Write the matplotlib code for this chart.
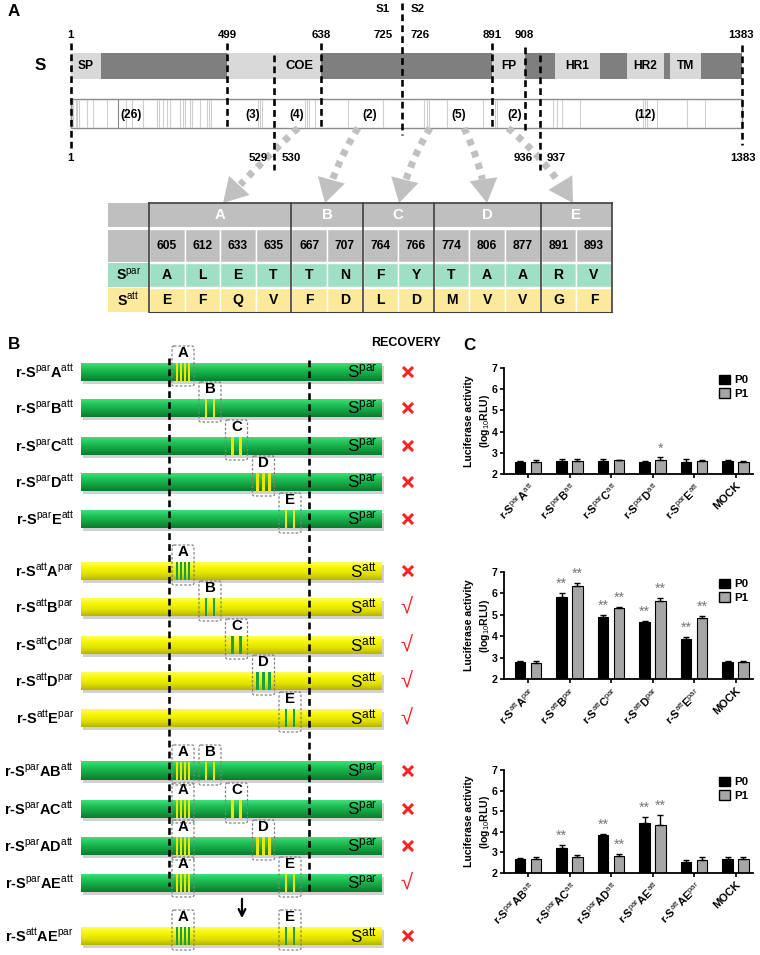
import matplotlib
matplotlib.use('Agg')
import matplotlib.pyplot as plt
import numpy as np
from matplotlib.patches import Rectangle, FancyBboxPatch, Polygon
from matplotlib.colors import LinearSegmentedColormap
from matplotlib.patches import Patch

plt.rcParams['font.family'] = ['Liberation Sans', 'DejaVu Sans']
plt.rcParams['mathtext.fontset'] = 'custom'
plt.rcParams['mathtext.rm'] = 'Liberation Sans'
plt.rcParams['mathtext.it'] = 'Liberation Sans:italic'
plt.rcParams['mathtext.bf'] = 'Liberation Sans:bold'

# ---------------- data ----------------
top_marks = ['1', '499', '638', '725', '726', '891', '908', '1383']
bottom_marks = ['1', '529', '530', '936', '937', '1383']
domain_names = ['SP', '', 'FP', 'HR1', 'HR2', 'TM']
segment_counts = ['(26)', '(3)', '(4)', '(2)', '(5)', '(2)', '(12)']
region_names = ['A', 'B', 'C', 'D', 'E']
region_positions = [['605', '612', '633', '635'], ['667', '707'], ['764', '766'],
                    ['774', '806', '877'], ['891', '893']]
spar_residues = [['A', 'L', 'E', 'T'], ['T', 'N'], ['F', 'Y'], ['T', 'A', 'A'], ['R', 'V']]
satt_residues = [['E', 'F', 'Q', 'V'], ['F', 'D'], ['L', 'D'], ['M', 'V', 'V'], ['G', 'F']]

construct_labels = [
    r'r-S$^{\mathrm{par}}$A$^{\mathrm{att}}$', r'r-S$^{\mathrm{par}}$B$^{\mathrm{att}}$',
    r'r-S$^{\mathrm{par}}$C$^{\mathrm{att}}$', r'r-S$^{\mathrm{par}}$D$^{\mathrm{att}}$',
    r'r-S$^{\mathrm{par}}$E$^{\mathrm{att}}$',
    r'r-S$^{\mathrm{att}}$A$^{\mathrm{par}}$', r'r-S$^{\mathrm{att}}$B$^{\mathrm{par}}$',
    r'r-S$^{\mathrm{att}}$C$^{\mathrm{par}}$', r'r-S$^{\mathrm{att}}$D$^{\mathrm{par}}$',
    r'r-S$^{\mathrm{att}}$E$^{\mathrm{par}}$',
    r'r-S$^{\mathrm{par}}$AB$^{\mathrm{att}}$', r'r-S$^{\mathrm{par}}$AC$^{\mathrm{att}}$',
    r'r-S$^{\mathrm{par}}$AD$^{\mathrm{att}}$', r'r-S$^{\mathrm{par}}$AE$^{\mathrm{att}}$',
    r'r-S$^{\mathrm{att}}$AE$^{\mathrm{par}}$']
backbone = ['par'] * 5 + ['att'] * 5 + ['par'] * 4 + ['att']
swapped = [['A'], ['B'], ['C'], ['D'], ['E'], ['A'], ['B'], ['C'], ['D'], ['E'],
           ['A', 'B'], ['A', 'C'], ['A', 'D'], ['A', 'E'], ['A', 'E']]
recovery = [False] * 6 + [True] * 4 + [False] * 3 + [True, False]

c1_labels = [r'r-S$^{\mathrm{par}}$A$^{\mathrm{att}}$', r'r-S$^{\mathrm{par}}$B$^{\mathrm{att}}$',
             r'r-S$^{\mathrm{par}}$C$^{\mathrm{att}}$', r'r-S$^{\mathrm{par}}$D$^{\mathrm{att}}$',
             r'r-S$^{\mathrm{par}}$E$^{\mathrm{att}}$', 'MOCK']
c1_p0 = [2.55, 2.63, 2.63, 2.58, 2.57, 2.63]
c1_p0_err = [0.05, 0.1, 0.08, 0.04, 0.12, 0.04]
c1_p1 = [2.57, 2.6, 2.64, 2.68, 2.6, 2.57]
c1_p1_err = [0.08, 0.1, 0.04, 0.1, 0.05, 0.04]
c1_p0_sig = ['', '', '', '', '', '']
c1_p1_sig = ['', '', '', '*', '', '']

c2_labels = [r'r-S$^{\mathrm{att}}$A$^{\mathrm{par}}$', r'r-S$^{\mathrm{att}}$B$^{\mathrm{par}}$',
             r'r-S$^{\mathrm{att}}$C$^{\mathrm{par}}$', r'r-S$^{\mathrm{att}}$D$^{\mathrm{par}}$',
             r'r-S$^{\mathrm{att}}$E$^{\mathrm{par}}$', 'MOCK']
c2_p0 = [2.78, 5.83, 4.9, 4.68, 3.85, 2.8]
c2_p0_err = [0.08, 0.17, 0.1, 0.05, 0.12, 0.03]
c2_p1 = [2.76, 6.35, 5.3, 5.65, 4.83, 2.78]
c2_p1_err = [0.06, 0.12, 0.07, 0.15, 0.12, 0.06]
c2_p0_sig = ['', '**', '**', '**', '**', '']
c2_p1_sig = ['', '**', '**', '**', '**', '']

c3_labels = [r'r-S$^{\mathrm{par}}$AB$^{\mathrm{att}}$', r'r-S$^{\mathrm{par}}$AC$^{\mathrm{att}}$',
             r'r-S$^{\mathrm{par}}$AD$^{\mathrm{att}}$', r'r-S$^{\mathrm{par}}$AE$^{\mathrm{att}}$',
             r'r-S$^{\mathrm{att}}$AE$^{\mathrm{par}}$', 'MOCK']
c3_p0 = [2.68, 3.2, 3.85, 4.43, 2.55, 2.68]
c3_p0_err = [0.07, 0.17, 0.05, 0.28, 0.1, 0.08]
c3_p1 = [2.68, 2.78, 2.83, 4.35, 2.62, 2.68]
c3_p1_err = [0.1, 0.1, 0.08, 0.45, 0.17, 0.08]
c3_p0_sig = ['', '**', '**', '**', '', '']
c3_p1_sig = ['', '', '**', '**', '', '']

series_names = ['P0', 'P1']

# ---------------- layout (pixels) ----------------
W, H = 760, 955
def pt(px):
    return px * 0.72

fig = plt.figure(figsize=(W / 100, H / 100), dpi=100)
ax = fig.add_axes([0, 0, 1, 1])
ax.set_xlim(0, W)
ax.set_ylim(H, 0)
ax.set_autoscale_on(False)
ax.axis('off')

# ===== Panel A =====
ax.text(8, 12, 'A', fontsize=pt(17), weight='bold', ha='left', va='center')
ax.text(40, 66, 'S', fontsize=pt(17), weight='bold', ha='center', va='center')

bar_x0, bar_x1 = 71, 742
ax.add_patch(Rectangle((bar_x0, 53), bar_x1 - bar_x0, 26, fc='#7f7f7f', ec='none', zorder=1))
light_spans = [(71, 101), (227, 321), (492, 525), (555, 600), (627, 664), (670, 701)]
for (a, b), nm in zip(light_spans, domain_names):
    ax.add_patch(Rectangle((a, 53), b - a, 26, fc='#d9d9d9', ec='none', zorder=2))
    if nm:
        ax.text((a + b) / 2, 66, nm, fontsize=pt(12), weight='bold', ha='center', va='center', zorder=3)
ax.text(300, 66, 'COE', fontsize=pt(13), weight='bold', ha='center', va='center', zorder=3)

# mutation map bar
ax.add_patch(Rectangle((bar_x0, 99), bar_x1 - bar_x0, 29, fc='white', ec='#8c8c8c', lw=1, zorder=1))
mut_x = [72, 73, 76, 77, 79, 87, 93, 107, 118, 126, 132, 143, 157, 159, 163, 167, 170, 180, 183,
         185, 190, 192, 200, 207, 209, 211, 258, 260, 262, 305, 307, 309, 315, 348, 383,
         424, 427, 429, 447, 483, 495, 497, 553, 557, 562, 580, 643, 645, 647, 657, 687, 705]
for mx in mut_x:
    ax.plot([mx, mx], [100, 127], color='#888888' if mx == 118 else '#cfcfcf', lw=0.8, zorder=2)
count_x = [131, 253, 297, 370, 459, 515, 645]
for cx, lab in zip(count_x, segment_counts):
    ax.text(cx, 115, lab, fontsize=pt(12), weight='bold', ha='center', va='center', zorder=3)

top_x = [71, 227, 321, 383, 420, 492, 524, 741]
for tx, lab in zip(top_x, top_marks):
    ax.text(tx, 35, lab, fontsize=pt(11.5), weight='bold', ha='center', va='center')
ax.text(383, 9, 'S1', fontsize=pt(11.5), weight='bold', ha='center', va='center')
ax.text(418, 9, 'S2', fontsize=pt(11.5), weight='bold', ha='center', va='center')
bot_x = [71, 258, 291, 523, 556, 743]
for bx, lab in zip(bot_x, bottom_marks):
    ax.text(bx, 158, lab, fontsize=pt(11.5), weight='bold', ha='center', va='center', zorder=8)

dash_lines = [(71, 43, 148), (227, 43, 130), (321, 43, 128), (274, 55, 170), (402, 3, 135),
              (492, 43, 128), (525, 47, 130), (540, 55, 170), (742, 45, 145)]
for x, y0, y1 in dash_lines:
    ax.plot([x, x], [y0, y1], color='k', lw=pt(2.6), dashes=(2.6, 1.6), zorder=4, solid_capstyle='butt')

# grey dashed (slightly curved) arrows to table
arrow_start = [(298, 128), (358, 128), (430, 128), (464, 128), (508, 128)]
arrow_tip = [(223, 203), (325, 203), (399, 203), (487, 203), (573, 203)]
arrow_bend = [2, 6, 6, -6, -8]
for (sx, sy), (tx, ty), bend in zip(arrow_start, arrow_tip, arrow_bend):
    P0 = np.array([sx, sy], float)
    Ptip = np.array([tx, ty], float)
    d = Ptip - P0
    d /= np.hypot(*d)
    perp = np.array([-d[1], d[0]])
    mid = (P0 + Ptip) / 2 + bend * perp
    dtip = Ptip - mid
    dtip /= np.hypot(*dtip)
    ptp = np.array([-dtip[1], dtip[0]])
    base = Ptip - 24 * dtip
    t = np.linspace(0, 1, 60)
    curve = (1 - t)[:, None] ** 2 * P0 + 2 * ((1 - t) * t)[:, None] * mid + (t ** 2)[:, None] * Ptip
    keep = np.array([np.dot(p - base, dtip) < 0 for p in curve])
    curve = curve[keep]
    ax.plot(curve[:, 0], curve[:, 1], color='#c0c0c0', lw=pt(7), dashes=(0.9, 0.9),
            solid_capstyle='butt', zorder=3)
    tri = [(tx, ty), tuple(base + 14 * ptp), tuple(base - 14 * ptp)]
    ax.add_patch(Polygon(tri, closed=True, fc='#c0c0c0', ec='none', zorder=3))

# table
tab_lx, tab_x0, colw = 108, 149, 35.6
r_head = (203, 227)
r_pos = (229, 262)
r_par = (263, 287)
r_att = (288, 312)
grey, green_c, yellow_c = '#bfbfbf', '#9fe0c4', '#fde99c'
ax.add_patch(Rectangle((tab_lx, r_head[0]), tab_x0 - tab_lx, r_head[1] - r_head[0], fc=grey, ec='none'))
ax.add_patch(Rectangle((tab_lx, r_pos[0]), tab_x0 - tab_lx, r_pos[1] - r_pos[0], fc=grey, ec='none'))
ax.add_patch(Rectangle((tab_lx, r_par[0]), tab_x0 - tab_lx, r_par[1] - r_par[0], fc=green_c, ec='none'))
ax.add_patch(Rectangle((tab_lx, r_att[0]), tab_x0 - tab_lx, r_att[1] - r_att[0], fc=yellow_c, ec='none'))
ax.text((tab_lx + tab_x0) / 2, sum(r_par) / 2, r'S$^{\mathrm{par}}$', fontsize=pt(14), weight='bold',
        ha='center', va='center')
ax.text((tab_lx + tab_x0) / 2, sum(r_att) / 2, r'S$^{\mathrm{att}}$', fontsize=pt(14), weight='bold',
        ha='center', va='center')
col = 0
group_edges = [tab_x0]
for g, nm in enumerate(region_names):
    n = len(region_positions[g])
    gx0 = tab_x0 + col * colw
    gx1 = gx0 + n * colw
    ax.add_patch(Rectangle((gx0, r_head[0]), gx1 - gx0, r_head[1] - r_head[0], fc=grey, ec='none'))
    ax.text((gx0 + gx1) / 2, sum(r_head) / 2, nm, fontsize=pt(15), weight='bold', color='white',
            ha='center', va='center')
    for k in range(n):
        cx0 = gx0 + k * colw
        for (ya, yb), fc, txt in [(r_pos, grey, region_positions[g][k]),
                                  (r_par, green_c, spar_residues[g][k]),
                                  (r_att, yellow_c, satt_residues[g][k])]:
            ax.add_patch(Rectangle((cx0, ya), colw, yb - ya, fc=fc, ec='white', lw=1))
            ax.text(cx0 + colw / 2, (ya + yb) / 2, txt, fontsize=pt(12 if txt.isdigit() else 14),
                    weight='bold', ha='center', va='center')
    col += n
    group_edges.append(gx1)
ax.plot([tab_lx, group_edges[-1]], [228, 228], color='white', lw=2.2, zorder=5)
for gx in group_edges:
    ax.plot([gx, gx], [r_head[0], r_att[1]], color='#404040', lw=1.2, zorder=6)
ax.plot([tab_x0, group_edges[-1]], [r_head[0], r_head[0]], color='#404040', lw=1.2, zorder=6)
ax.plot([tab_x0, group_edges[-1]], [r_att[1], r_att[1]], color='#404040', lw=0.8, zorder=6)

# ===== Panel B =====
ax.text(8, 344, 'B', fontsize=pt(17), weight='bold', ha='left', va='center')
ax.text(406, 343, 'RECOVERY', fontsize=pt(12.5), weight='bold', ha='center', va='center')
row_y = [372, 408, 446, 482, 519, 571, 607, 645, 681, 718, 771, 809, 846, 883, 936]
bx0, bx1, bh = 81, 382, 18
box_cx = {'A': 183, 'B': 210, 'C': 236.5, 'D': 263.5, 'E': 290}
stripe_span = {'A': 6, 'B': 4, 'C': 4, 'D': 6, 'E': 4}
green_cmap = LinearSegmentedColormap.from_list('g', ['#3fe07a', '#1fbf55', '#13a040', '#0c7a30'])
yellow_cmap = LinearSegmentedColormap.from_list('y', ['#ffff55', '#f5f500', '#e0e000', '#b5b500'])
grad = np.linspace(0, 1, 64).reshape(-1, 1)

for i, yc in enumerate(row_y):
    y0 = yc - bh / 2
    ax.add_patch(Rectangle((bx0 + 2, y0 + 3), bx1 - bx0, bh, fc='black', alpha=0.18, ec='none', zorder=1))
    cm = green_cmap if backbone[i] == 'par' else yellow_cmap
    ax.imshow(grad, cmap=cm, extent=(bx0, bx1, y0 + bh, y0), aspect='auto', zorder=2,
              interpolation='bilinear')
    stripe_c = '#f2e400' if backbone[i] == 'par' else '#17a045'
    for reg in swapped[i]:
        c = box_cx[reg]
        n = len(region_positions[region_names.index(reg)])
        for sx in np.linspace(c - stripe_span[reg], c + stripe_span[reg], n):
            ax.add_patch(Rectangle((sx - 1.3, y0), 2.6, bh, fc=stripe_c, ec='none', zorder=3))
        ax.add_patch(FancyBboxPatch((c - 11, yc - 26), 22, 40, boxstyle='round,pad=0,rounding_size=2',
                                    fc='none', ec='#808080', lw=0.9, ls=(0, (2, 1.5)), zorder=4))
        ax.text(c, yc - 19, reg, fontsize=pt(15), weight='bold', ha='center', va='center', zorder=5)
    ax.text(74, yc, construct_labels[i], fontsize=pt(14.5), weight='bold', ha='right', va='center')
    ax.text(377, yc, r'S$^{\mathrm{%s}}$' % backbone[i], fontsize=pt(17), ha='right', va='center', zorder=5)
    if recovery[i]:
        ax.text(407, yc + 1, '\u221a', fontsize=pt(22), color='#ff2020', ha='center', va='center',
                family=['Liberation Sans', 'DejaVu Sans'])
    else:
        ax.plot([403, 413], [yc - 5, yc + 5], color='#ff2020', lw=pt(3), solid_capstyle='butt')
        ax.plot([403, 413], [yc + 5, yc - 5], color='#ff2020', lw=pt(3), solid_capstyle='butt')

ax.plot([169, 169], [358, 886], color='k', lw=pt(2.6), dashes=(2.6, 1.6), zorder=6)
ax.plot([309, 309], [360, 895], color='k', lw=pt(2.6), dashes=(2.6, 1.6), zorder=6)
ax.annotate('', xy=(242, 921), xytext=(242, 896),
            arrowprops=dict(arrowstyle='->', color='k', lw=1.6, mutation_scale=12))

# ===== Panel C =====
ax.text(469, 345, 'C', fontsize=pt(17), weight='bold', ha='center', va='center')

def px_axes(x0, y0, x1, y1):
    return fig.add_axes([x0 / W, 1 - y1 / H, (x1 - x0) / W, (y1 - y0) / H])

charts = [
    ((504, 368, 753, 474), c1_labels, c1_p0, c1_p0_err, c1_p1, c1_p1_err, c1_p0_sig, c1_p1_sig),
    ((504, 572, 753, 679), c2_labels, c2_p0, c2_p0_err, c2_p1, c2_p1_err, c2_p0_sig, c2_p1_sig),
    ((504, 770, 753, 873), c3_labels, c3_p0, c3_p0_err, c3_p1, c3_p1_err, c3_p0_sig, c3_p1_sig),
]
for box, labels, p0, e0, p1, e1, s0, s1 in charts:
    cax = px_axes(*box)
    x = np.arange(len(labels))
    off, bw = 0.19, 0.25
    ekw = dict(elinewidth=1.0, capthick=1.0, ecolor='k')
    cax.bar(x - off, p0, bw, color='black', edgecolor='black', lw=0.8,
            yerr=[np.zeros(len(x)), e0], capsize=2.5, error_kw=ekw, zorder=2)
    cax.bar(x + off, p1, bw, color='#a6a6a6', edgecolor='black', lw=0.8,
            yerr=[np.zeros(len(x)), e1], capsize=2.5, error_kw=ekw, zorder=2)
    for xi, v, e, s in zip(x - off, p0, e0, s0):
        if s:
            cax.text(xi, v + e + 0.1, s, fontsize=pt(14), color='#777777', ha='center', va='bottom')
    for xi, v, e, s in zip(x + off, p1, e1, s1):
        if s:
            cax.text(xi, v + e + 0.1, s, fontsize=pt(14), color='#777777', ha='center', va='bottom')
    cax.set_ylim(2, 7)
    cax.set_xlim(-0.58, 5.42)
    cax.set_yticks(range(2, 8))
    cax.set_yticklabels([str(t) for t in range(2, 8)], fontsize=pt(10.5), fontweight='bold')
    cax.set_xticks(x)
    cax.set_xticklabels(labels, rotation=45, ha='right', rotation_mode='anchor',
                        fontsize=pt(11), fontweight='bold')
    for sp in ['top', 'right']:
        cax.spines[sp].set_visible(False)
    for sp in ['left', 'bottom']:
        cax.spines[sp].set_linewidth(1.3)
    cax.tick_params(axis='both', direction='out', length=3, width=1.2, pad=1.5)
    cax.patch.set_alpha(0)
    handles = [Patch(fc='black', ec='black'), Patch(fc='#a6a6a6', ec='black')]
    cax.legend(handles, series_names, loc='upper right', bbox_to_anchor=(1.0, 0.98), frameon=False,
               prop={'size': pt(11.5), 'weight': 'bold'}, handlelength=0.9, handleheight=0.9,
               handletextpad=0.4, labelspacing=0.25, borderaxespad=0)
    yc = (box[1] + box[3]) / 2
    ax.text(478, yc, 'Luciferase activity\n(log$_{10}$RLU)', rotation=90, fontsize=pt(10.5),
            weight='bold', ha='center', va='center', multialignment='center', linespacing=1.3)

fig.savefig('out.png', dpi=100)
